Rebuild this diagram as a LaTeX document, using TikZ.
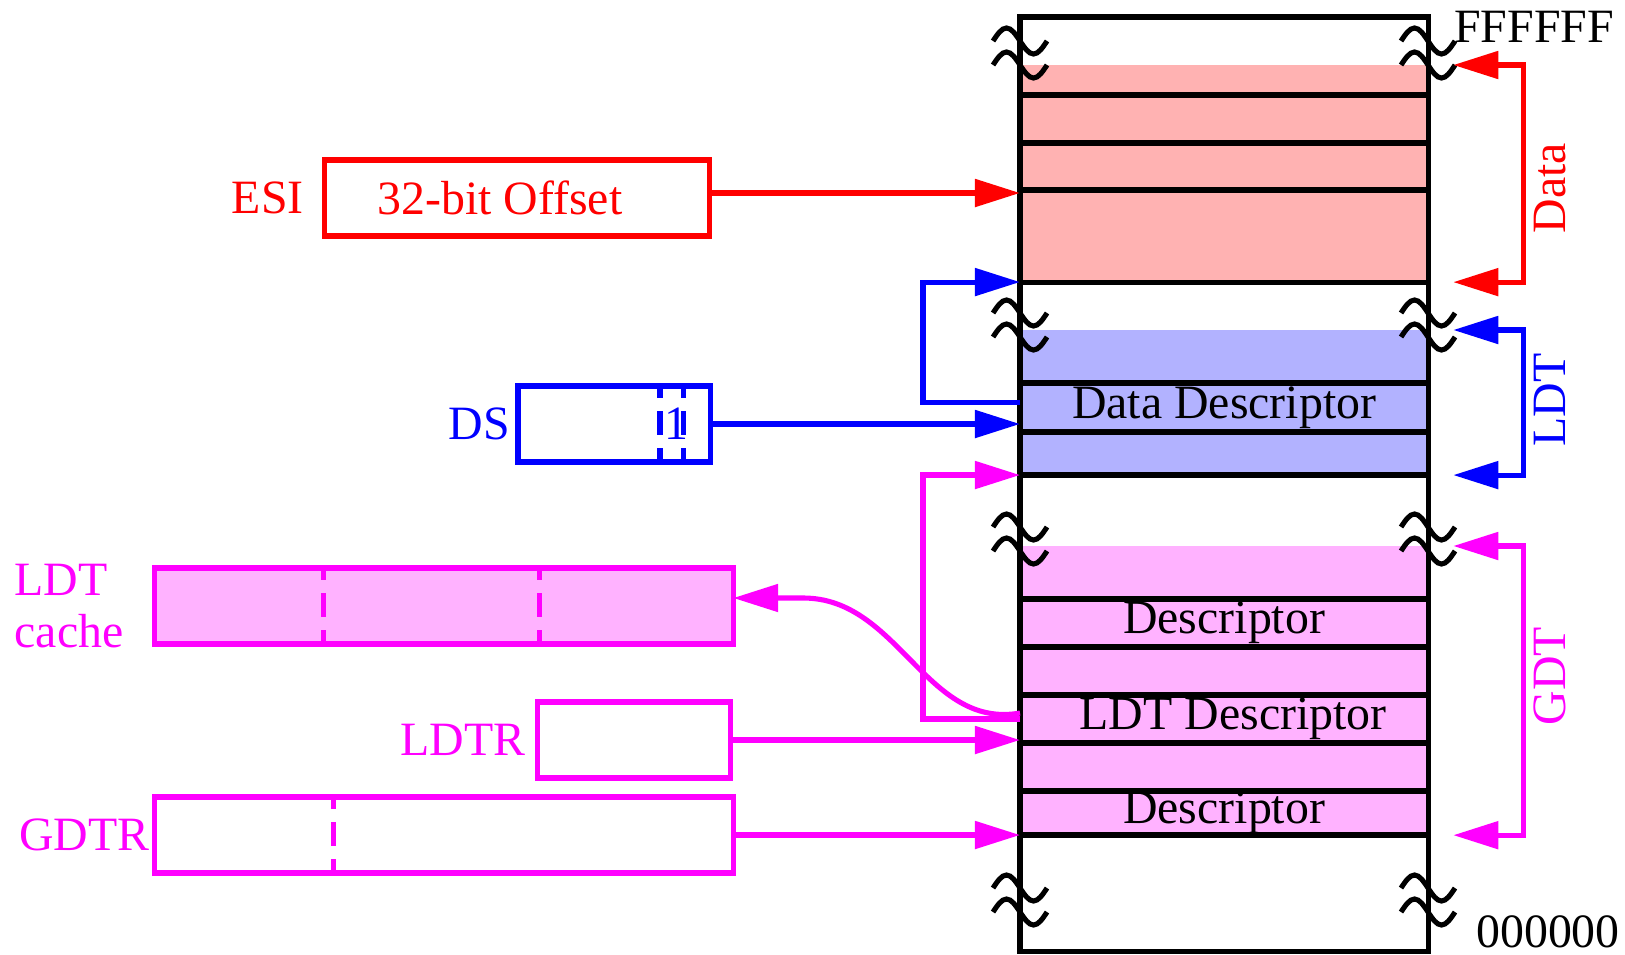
\documentclass[tikz,border=0pt]{standalone}
\usepackage{fontspec}
\setmainfont{Liberation Serif}
\usetikzlibrary{arrows.meta}
\definecolor{gdtpink}{RGB}{255,0,255}
\definecolor{ldtblue}{RGB}{0,0,255}
\definecolor{datared}{RGB}{255,0,0}

\begin{document}
\begin{tikzpicture}[x=0.01cm, y=-0.01cm, line width=1.45pt,
    font=\fontsize{13.6pt}{15pt}\selectfont,
    area/.style={draw=none, minimum width=4.08cm, inner sep=0pt, outer sep=0pt, anchor=north west},
    cell/.style={draw, minimum width=4.08cm, inner sep=0pt, outer sep=0pt, anchor=north west},
    reg/.style={draw, minimum height=0.76cm, inner sep=0pt, outer sep=0pt},
    arr/.style={-{Triangle[length=4.5mm, width=2.7mm]}},
    span/.style={{Triangle[length=4.5mm, width=2.7mm]}-{Triangle[length=4.5mm, width=2.7mm]}},
    field/.style={dash pattern=on 2.4mm off 1.3mm, dash phase=1.2mm}]

    \useasboundingbox (0,0) rectangle (1625,954);

    % memory
    \node[area, fill=datared!30, minimum height=2.17cm] (data) at (1020,65) {};
    \node[area, fill=ldtblue!30, minimum height=1.45cm] (ldt) at (1020,330) {};
    \node[area, fill=gdtpink!30, minimum height=2.89cm] (gdt) at (1020,546) {};

    \node[cell, minimum height=0.48cm] (d1) at (1020,95) {};
    \node[cell, minimum height=0.47cm] (d2) at (1020,143) {};
    \node[cell, minimum height=0.92cm] (d3) at (1020,190) {};

    \node[cell, minimum height=0.49cm] (l1) at (1020,383) {Data Descriptor};
    \node[cell, minimum height=0.43cm] (l2) at (1020,432) {};

    \node[cell, minimum height=0.48cm] (g1) at (1020,599) {Descriptor};
    \node[cell, minimum height=0.48cm] (g2) at (1020,647) {};
    \node[cell, minimum height=0.48cm] (g3) at (1020,695) {\hspace{0.18cm}LDT Descriptor};
    \node[cell, minimum height=0.48cm] (g4) at (1020,743) {};
    \node[cell, minimum height=0.44cm] (g5) at (1020,791) {Descriptor};

    \node[cell, minimum height=9.34cm] (mem) at (1020,17) {};

    \foreach \y in {53,325,539,900}
      \foreach \x in {1020,1428}
        \foreach \s in {-12,12}
          \draw (\x-27,\y+\s) sin ++(13.5,-13) cos ++(13.5,13) sin ++(13.5,13) cos ++(13.5,-13);

    \node[anchor=west] (high) at (1440,27) {FFFFFF};
    \node[anchor=west] (low) at (1462,932) {000000};

    % data segment
    \begin{scope}[datared]
      \node[reg, minimum width=3.84cm, label={[label distance=0.07cm]left:ESI},
          label={[xshift=-0.17cm]center:32-bit Offset}] (esi) at (517,198) {};
      \draw[arr] ([yshift=0.05cm]esi.east) -- ([yshift=0.05cm]esi.east -| mem.west);
      \draw[span] ([xshift=0.25cm]data.north east) -- ++(70,0) |- ([xshift=0.25cm]data.south east);
      \node[rotate=90] (dataname) at (1550,188) {Data};
    \end{scope}

    % local descriptor table
    \begin{scope}[ldtblue]
      \node[reg, minimum width=1.92cm, label={[label distance=-0.06cm]left:DS},
          label={[xshift=0.62cm]center:1}] (ds) at (614,424) {};
      \draw[field] ([xshift=0.46cm]ds.north) -- ([xshift=0.46cm]ds.south);
      \draw[field] ([xshift=0.69cm]ds.north) -- ([xshift=0.69cm]ds.south);
      \draw[arr] (ds.east) -- (ds.east -| mem.west);
      \draw[arr] ([yshift=0.05cm]l1.west) -- ++(-97,0) |- (d3.south west);
      \draw[span] ([xshift=0.25cm]ldt.north east) -- ++(70,0) |- ([xshift=0.25cm]ldt.south east);
      \node[rotate=90] (ldtname) at (1550,400) {LDT};
    \end{scope}

    % global descriptor table
    \begin{scope}[gdtpink]
      \node[reg, fill=gdtpink!30, minimum width=5.78cm,
          label={[align=left, label distance=0.17cm]left:LDT\\cache}] (cache) at (444,606) {};
      \draw[field] ([xshift=-1.20cm]cache.north) -- ([xshift=-1.20cm]cache.south);
      \draw[field] ([xshift=0.95cm]cache.north) -- ([xshift=0.95cm]cache.south);
      \node[reg, minimum width=1.93cm, label={[label distance=-0.02cm]left:LDTR}] (ldtr) at (634,740) {};
      \node[reg, minimum width=5.78cm, label={[label distance=-0.09cm]left:GDTR}] (gdtr) at (444,835) {};
      \draw[field] ([xshift=-1.10cm]gdtr.north) -- ([xshift=-1.10cm]gdtr.south);
      \draw[arr] (ldtr.east) -- (ldtr.east -| mem.west);
      \draw[arr] (gdtr.east) -- (gdtr.east -| mem.west);
      \draw[arr] (g3.west) -- ++(-97,0) |- (l2.south west);
      \draw[arr] ([yshift=0.06cm]g3.west) to[out=190, in=0]
          ([xshift=0.7cm, yshift=0.08cm]cache.east) -- ([yshift=0.08cm]cache.east);
      \draw[span] ([xshift=0.25cm]gdt.north east) -- ++(70,0) |- ([xshift=0.25cm]gdt.south east);
      \node[rotate=90] (gdtname) at (1550,676) {GDT};
    \end{scope}
\end{tikzpicture}
\end{document}
